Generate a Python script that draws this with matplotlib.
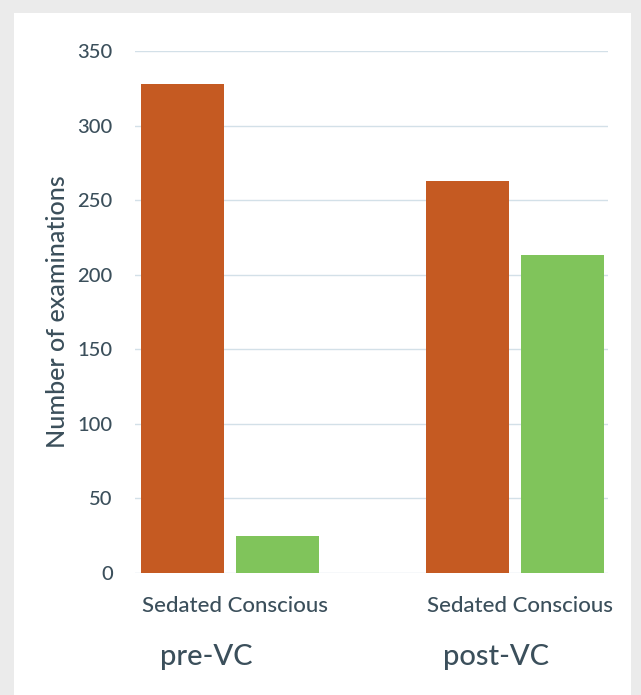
"""Bar chart of examinations before and after VC."""

import matplotlib
matplotlib.use("Agg")
import matplotlib.pyplot as plt
from matplotlib.patches import Rectangle

groups = ["pre-VC", "post-VC"]
sub_labels = "Sedated Conscious"
sedated = [328, 263]
conscious = [25, 213]
yticks = [0, 50, 100, 150, 200, 250, 300, 350]

ORANGE = "#c55a22"
GREEN = "#80c45b"
TEXT = "#3b4f5b"
GRID = "#d3e0e8"
FONT = "Lato"

fig = plt.figure(figsize=(6.41, 6.95), dpi=100)
fig.patch.set_facecolor("#ebebeb")
fig.patches.append(Rectangle((0.022, 0.0), 0.962, 0.981, transform=fig.transFigure,
                             facecolor="white", edgecolor="none", zorder=-10))

ax = fig.add_axes([0.2106, 0.1755, 0.7379, 0.7511])
ax.set_facecolor("none")
ax.set_zorder(5)

centers = [0.5, 3.5]
xs_sed = [c - 0.5 for c in centers]
xs_con = [c + 0.5 for c in centers]
ax.bar(xs_sed, sedated, width=0.87, color=ORANGE, zorder=3)
ax.bar(xs_con, conscious, width=0.87, color=GREEN, zorder=3)

ax.set_xlim(-0.5, 4.48)
ax.set_ylim(0, 350)
ax.set_yticks(yticks)
ax.set_yticklabels([str(v) for v in yticks], fontsize=14.5, color=TEXT,
                   family=FONT, fontweight="medium")
ax.set_xticks([])
ax.tick_params(axis="y", length=0, pad=16)
ax.grid(axis="y", color=GRID, linewidth=1, zorder=0)
for spine in ax.spines.values():
    spine.set_visible(False)

ax.set_ylabel("Number of examinations", fontsize=18, color=TEXT,
              family=FONT, fontweight="medium", labelpad=6)

group_x = [0.25, 3.3]
for c, gx, g in zip(centers, group_x, groups):
    ax.text(c + 0.05, -22, sub_labels, ha="center", va="center", fontsize=16,
            color=TEXT, family=FONT, fontweight="medium")
    ax.text(gx, -56, g, ha="center", va="center", fontsize=21,
            color=TEXT, family=FONT, fontweight="medium")

fig.savefig("out.png", dpi=100, facecolor=fig.get_facecolor())
plt.close(fig)
